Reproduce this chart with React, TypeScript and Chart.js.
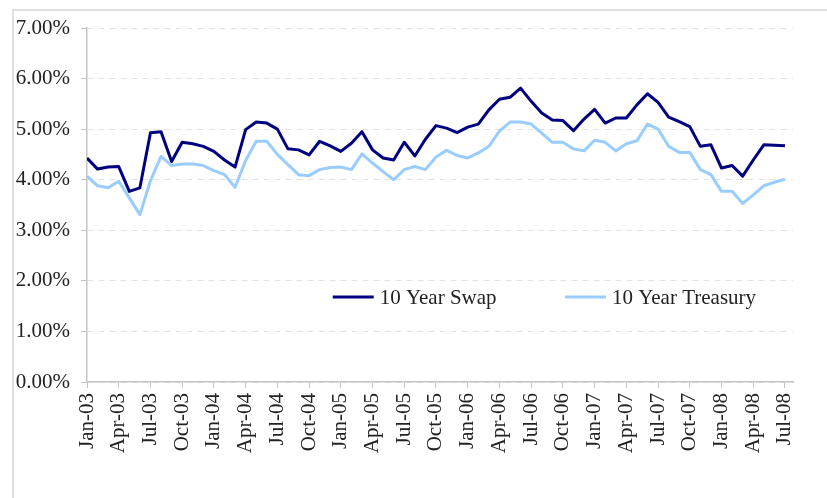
import React, { useEffect, useRef } from 'react';
import { Chart, registerables } from 'chart.js';

Chart.register(...registerables);

const months = [
  'Jan-03', 'Feb-03', 'Mar-03', 'Apr-03', 'May-03', 'Jun-03', 'Jul-03', 'Aug-03', 'Sep-03', 'Oct-03', 'Nov-03', 'Dec-03',
  'Jan-04', 'Feb-04', 'Mar-04', 'Apr-04', 'May-04', 'Jun-04', 'Jul-04', 'Aug-04', 'Sep-04', 'Oct-04', 'Nov-04', 'Dec-04',
  'Jan-05', 'Feb-05', 'Mar-05', 'Apr-05', 'May-05', 'Jun-05', 'Jul-05', 'Aug-05', 'Sep-05', 'Oct-05', 'Nov-05', 'Dec-05',
  'Jan-06', 'Feb-06', 'Mar-06', 'Apr-06', 'May-06', 'Jun-06', 'Jul-06', 'Aug-06', 'Sep-06', 'Oct-06', 'Nov-06', 'Dec-06',
  'Jan-07', 'Feb-07', 'Mar-07', 'Apr-07', 'May-07', 'Jun-07', 'Jul-07', 'Aug-07', 'Sep-07', 'Oct-07', 'Nov-07', 'Dec-07',
  'Jan-08', 'Feb-08', 'Mar-08', 'Apr-08', 'May-08', 'Jun-08', 'Jul-08',
];

const swap10y = [
  4.43, 4.21, 4.25, 4.26, 3.77, 3.84, 4.93, 4.95, 4.36, 4.74, 4.71, 4.66,
  4.56, 4.39, 4.25, 4.99, 5.14, 5.12, 5.0, 4.61, 4.59, 4.49, 4.76, 4.67,
  4.56, 4.72, 4.95, 4.59, 4.43, 4.39, 4.74, 4.47, 4.8, 5.07, 5.02, 4.93,
  5.04, 5.1, 5.38, 5.59, 5.63, 5.81, 5.55, 5.32, 5.18, 5.17, 4.97, 5.2,
  5.39, 5.12, 5.22, 5.22, 5.48, 5.7, 5.53, 5.24, 5.15, 5.05, 4.66, 4.69,
  4.23, 4.28, 4.07, 4.39, 4.69, 4.68, 4.67,
];

const treasury10y = [
  4.07, 3.88, 3.84, 3.97, 3.64, 3.31, 3.98, 4.46, 4.28, 4.31, 4.31, 4.28,
  4.18, 4.1, 3.85, 4.38, 4.76, 4.76, 4.5, 4.3, 4.1, 4.08, 4.2, 4.24,
  4.25, 4.2, 4.51, 4.33, 4.16, 4.0, 4.2, 4.26, 4.2, 4.45, 4.58, 4.48,
  4.43, 4.53, 4.66, 4.96, 5.14, 5.14, 5.1, 4.92, 4.74, 4.74, 4.61, 4.57,
  4.78, 4.74, 4.57, 4.71, 4.77, 5.1, 5.0, 4.66, 4.54, 4.54, 4.2, 4.1,
  3.77, 3.77, 3.53, 3.7, 3.88, 3.95, 4.01,
];

const seriesNames = ['10 Year Swap', '10 Year Treasury'];
const seriesColors = ['#000080', '#99ccff'];
const yTickValues = [0, 1, 2, 3, 4, 5, 6, 7];
const labelEvery = 3;

const FONT = '"Liberation Serif", "Times New Roman", serif';
const TEXT = '#222222';
const AXIS = '#c4c4c4';

const inlineLegend = {
  id: 'inlineLegend',
  afterDatasetsDraw(chart: any) {
    const { ctx, chartArea, scales } = chart;
    const y = scales.y.getPixelForValue(1.68);
    const starts = [0.348, 0.677];
    const w = chartArea.right - chartArea.left;
    ctx.save();
    ctx.font = `21px ${FONT}`;
    ctx.textBaseline = 'middle';
    ctx.textAlign = 'left';
    chart.data.datasets.forEach((ds: any, i: number) => {
      const x0 = chartArea.left + starts[i] * w;
      ctx.strokeStyle = ds.borderColor;
      ctx.lineWidth = 3;
      ctx.beginPath();
      ctx.moveTo(x0, y);
      ctx.lineTo(x0 + 41, y);
      ctx.stroke();
      ctx.fillStyle = TEXT;
      ctx.fillText(ds.label, x0 + 47, y + 1);
    });
    ctx.restore();
  },
};

export default function App() {
  const canvasRef = useRef<HTMLCanvasElement | null>(null);

  useEffect(() => {
    const canvas = canvasRef.current;
    if (!canvas) return;
    const toPoints = (vals: number[]) => vals.map((v, i) => ({ x: i, y: v }));
    const chart = new Chart(canvas, {
      type: 'line',
      data: {
        datasets: [
          {
            label: seriesNames[0],
            data: toPoints(swap10y),
            borderColor: seriesColors[0],
            backgroundColor: seriesColors[0],
            borderWidth: 3,
            pointRadius: 0,
            tension: 0,
            borderJoinStyle: 'round',
          },
          {
            label: seriesNames[1],
            data: toPoints(treasury10y),
            borderColor: seriesColors[1],
            backgroundColor: seriesColors[1],
            borderWidth: 3,
            pointRadius: 0,
            tension: 0,
            borderJoinStyle: 'round',
          },
        ],
      },
      options: {
        animation: false,
        responsive: false,
        maintainAspectRatio: false,
        layout: { padding: { left: 0, top: 28, right: 34, bottom: 0 } },
        plugins: {
          legend: { display: false },
          tooltip: { enabled: false },
        },
        scales: {
          x: {
            type: 'linear',
            min: 0,
            max: months.length - 1 + 0.76,
            afterBuildTicks: (axis: any) => {
              axis.ticks = months
                .map((_, i) => i)
                .filter((i) => i % labelEvery === 0)
                .map((v) => ({ value: v }));
            },
            afterFit: (s: any) => {
              s.height = 116;
            },
            ticks: {
              autoSkip: false,
              minRotation: 90,
              maxRotation: 90,
              padding: 5,
              color: TEXT,
              font: { family: FONT, size: 21 },
              callback: (v: any) => months[v as number] ?? null,
            },
            grid: {
              display: true,
              drawOnChartArea: false,
              drawTicks: true,
              tickLength: 6,
              tickColor: AXIS,
              color: AXIS,
            },
            border: { display: true, color: AXIS, width: 1.5 },
          },
          y: {
            min: 0,
            max: 7,
            afterBuildTicks: (axis: any) => {
              axis.ticks = yTickValues.map((v) => ({ value: v }));
            },
            afterFit: (s: any) => {
              s.width = 87;
            },
            ticks: {
              padding: 11,
              color: TEXT,
              font: { family: FONT, size: 21 },
              callback: (v: any) => `${Number(v).toFixed(2)}%`,
            },
            grid: {
              color: '#e2e2e2',
              lineWidth: 1,
              tickColor: AXIS,
              tickLength: 6,
              drawTicks: true,
            },
            border: { display: true, color: AXIS, width: 1.5, dash: [6, 5] },
          },
        },
      },
      plugins: [inlineLegend],
    });
    return () => chart.destroy();
  }, []);

  return (
    <div style={{ position: 'fixed', left: 0, top: 0, width: 827, height: 498, overflow: 'hidden', background: '#ffffff' }}>
      <div
        style={{
          position: 'absolute',
          left: 12,
          top: 9,
          width: 840,
          height: 520,
          border: '2px solid #dedede',
          boxSizing: 'border-box',
        }}
      />
      <canvas ref={canvasRef} width={827} height={498} style={{ position: 'absolute', left: 0, top: 0, width: 827, height: 498 }} />
    </div>
  );
}
